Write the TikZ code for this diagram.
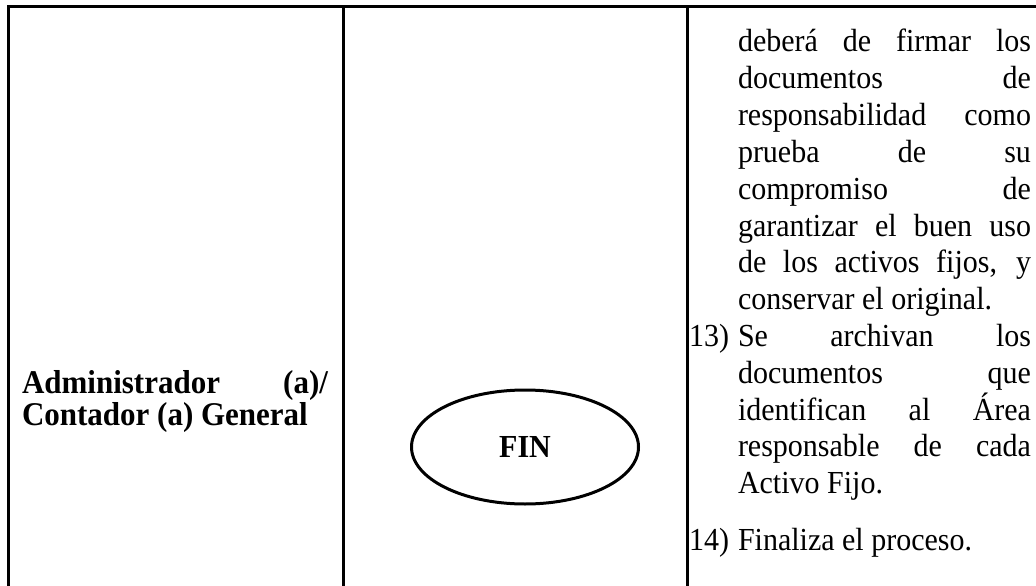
\documentclass[tikz,border=0pt]{standalone}
\usepackage{graphicx}
\usepackage{fontspec}
\setmainfont{Liberation Serif}
\usetikzlibrary{shapes.geometric}

% glyphs are set slightly taller than wide
\newcommand\tall[1]{\scalebox{1}[1.07]{#1}}
% one justified line of a cell, stretched to the cell's text width
\newcommand\justline[2]{\tall{\makebox[#1][s]{#2}}}

\begin{document}
\begin{tikzpicture}[x=1pt,y=-1pt,
  rule/.style={line width=3pt},
  txt/.style={anchor=base west,inner sep=0pt,outer sep=0pt,font=\fontsize{30}{36.8}\selectfont},
  role/.style={anchor=base west,inner sep=0pt,outer sep=0pt,font=\fontsize{31}{32}\selectfont\bfseries},
  terminal/.style={ellipse,draw,line width=3pt,inner sep=0pt,
    minimum width=227pt,minimum height=114pt,font=\fontsize{30}{36}\selectfont\bfseries}]
\useasboundingbox (0,0) rectangle (1036,586);

% table rules
\coordinate (tl) at (8.5,6.5);
\coordinate (tr) at (1036,6.5);
\coordinate (bl) at (8.5,586);
\coordinate (c1t) at (343,6.5);
\coordinate (c1b) at (343,586);
\coordinate (c2t) at (687.5,6.5);
\coordinate (c2b) at (687.5,586);
\draw[rule] (7,6.5) -- (tr);
\draw[rule] (tl) -- (bl);
\draw[rule] (c1t) -- (c1b);
\draw[rule] (c2t) -- (c2b);

% responsible role
\node[role] (r1) at (22,393) {\justline{306pt}{Administrador (a)/}};
\node[role] (r2) at (22,425) {\tall{Contador (a) General}};

% end terminal
\node[terminal] (fin) at (525,447) {\tall{FIN}};

% description column
\def\tw{293pt}
\node[txt] (l0)  at (738,52.0)  {\justline{\tw}{deberá de firmar los}};
\node[txt] (l1)  at (738,88.8)  {\justline{\tw}{documentos de}};
\node[txt] (l2)  at (738,125.6) {\justline{\tw}{responsabilidad como}};
\node[txt] (l3)  at (738,162.4) {\justline{\tw}{prueba de su}};
\node[txt] (l4)  at (738,199.2) {\justline{\tw}{compromiso de}};
\node[txt] (l5)  at (738,236.0) {\justline{\tw}{garantizar el buen uso}};
\node[txt] (l6)  at (738,272.8) {\justline{\tw}{de los activos fijos, y}};
\node[txt] (l7)  at (738,309.6) {\tall{conservar el original.}};
\node[txt] (n13) at (689,346.4) {\tall{13)}};
\node[txt] (l8)  at (738,346.4) {\justline{\tw}{Se archivan los}};
\node[txt] (l9)  at (738,383.2) {\justline{\tw}{documentos que}};
\node[txt] (l10) at (738,420.0) {\justline{\tw}{identifican al Área}};
\node[txt] (l11) at (738,456.8) {\justline{\tw}{responsable de cada}};
\node[txt] (l12) at (738,493.6) {\tall{Activo Fijo.}};
\node[txt] (n14) at (689,550)   {\tall{14)}};
\node[txt] (l14) at (738,550)   {\tall{Finaliza el proceso.}};
\end{tikzpicture}
\end{document}
